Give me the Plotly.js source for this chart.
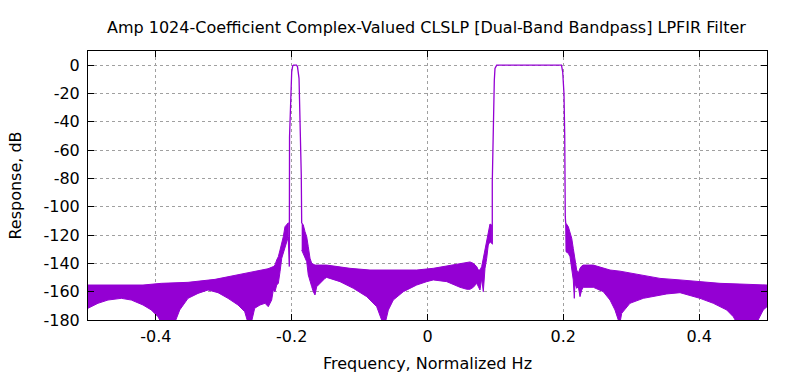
<!DOCTYPE html>
<html>
<head>
<meta charset="utf-8">
<script src="https://cdn.plot.ly/plotly-3.0.1.min.js"></script>
<style>html,body{margin:0;padding:0;background:#fff;}#chart{width:800px;height:375px;}</style>
</head>
<body>
<div id="chart"></div>
<script>
// Left stopband: upper and lower envelope of the dense ripple band
const leftUpperFreq = [-0.5, -0.419, -0.392, -0.3527, -0.313, -0.2938, -0.2644, -0.254, -0.2437, -0.2349, -0.2271, -0.2246, -0.2221, -0.2197, -0.2172, -0.2147, -0.2124, -0.2099, -0.2074, -0.205];
const leftUpperDb   = [-155.3, -155.3, -154.1, -153.4, -151.3, -149.4, -146.6, -145.6, -144.5, -143.8, -142.3, -141.1, -137.6, -135.3, -130.6, -125.9, -121.2, -114.1, -112.2, -111.3];
const leftLowerFreq = [-0.5, -0.4853, -0.4706, -0.451, -0.4362, -0.419, -0.4068, -0.3969, -0.392, -0.3723, -0.3649, -0.3527, -0.338, -0.3232, -0.3085, -0.2938, -0.2791, -0.2692, -0.2644, -0.2595, -0.2545, -0.2467, -0.2393, -0.2345, -0.2295, -0.2271, -0.2246, -0.2221, -0.2197, -0.2172, -0.2147, -0.2124, -0.2099, -0.2074, -0.205];
const leftLowerDb   = [-171.7, -168.2, -165.9, -164.7, -165.9, -169.4, -172.9, -177.7, -182, -182, -172.9, -164.7, -161.2, -158.8, -160.7, -164.7, -169.4, -174.1, -182, -182, -171.7, -169.4, -168.2, -170.6, -165.9, -158.8, -160, -155.3, -154.1, -145.9, -136.4, -132.9, -128.2, -124.7, -121.2];

// First passband (narrow, around -0.195)
const pass1Freq = [-0.205, -0.2035, -0.2032, -0.2015, -0.2, -0.1985, -0.1973, -0.1929, -0.1915, -0.1892, -0.1878, -0.1867, -0.1859, -0.1853];
const pass1Db   = [-121.2, -142.3, -50.5, -20, -4.7, -0.5, 0, 0, -1, -9.3, -31.7, -50.5, -77.6, -111.7];

// Middle stopband
const midUpperFreq = [-0.1853, -0.1829, -0.1804, -0.1779, -0.1756, -0.173, -0.1705, -0.1657, -0.1485, -0.1141, -0.0847, -0.0159, 0.0085, 0.0283, 0.0479, 0.0626, 0.0675, 0.0725, 0.0748, 0.0773, 0.0798, 0.0822, 0.0847, 0.0872, 0.0895, 0.092, 0.0946];
const midUpperDb   = [-111.3, -112.9, -117.6, -121.2, -128.2, -136.4, -140, -141.2, -141.2, -143.5, -144.7, -144.7, -143.5, -141.9, -140.4, -139, -140, -142.3, -144.7, -144.7, -142.3, -136.4, -130.6, -123.5, -117.6, -112.2, -112.9];
const midLowerFreq = [-0.1853, -0.1829, -0.1804, -0.1779, -0.1756, -0.173, -0.1705, -0.1682, -0.1657, -0.1632, -0.1608, -0.1558, -0.151, -0.1485, -0.1289, -0.1093, -0.0895, -0.0748, -0.0689, -0.066, -0.0622, -0.0577, -0.0504, -0.0356, -0.0159, -0.0012, 0.0085, 0.0283, 0.0479, 0.0577, 0.0626, 0.0675, 0.0725, 0.0748, 0.0773, 0.0798, 0.0822, 0.0847, 0.0872, 0.0895, 0.092, 0.0946];
const midLowerDb   = [-130.6, -132.9, -136.4, -138.8, -148.2, -152.9, -156.5, -160, -162.3, -156.5, -155.3, -152.9, -150.6, -149.9, -152.9, -157.6, -163.5, -170.6, -177.7, -182, -182, -173, -165.9, -160, -155.3, -152.9, -151.7, -152.9, -156.9, -158.3, -158.3, -156.9, -154.1, -156.5, -158.8, -150.6, -160, -143.5, -136.4, -127, -124.7, -125.8];

// Second passband (wide, 0.1 to 0.2)
const pass2Freq = [0.0946, 0.0954, 0.0954, 0.0969, 0.0984, 0.0994, 0.1019, 0.1973, 0.1991, 0.201, 0.2021, 0.2029, 0.2035];
const pass2Db   = [-125.8, -126, -82.3, -31.7, -10.6, -2.3, 0, 0, -4.7, -20, -50.5, -107, -111.7];

// Right stopband
const rightUpperFreq = [0.2035, 0.204, 0.2074, 0.2099, 0.2124, 0.2147, 0.2172, 0.2197, 0.2221, 0.2246, 0.2271, 0.2295, 0.2442, 0.2589, 0.2688, 0.2835, 0.313, 0.3424, 0.3719, 0.4013, 0.4308, 0.4602, 0.5];
const rightUpperDb   = [-111.7, -111.7, -114.1, -118.8, -122.3, -129.4, -136.4, -144.7, -147, -143.5, -141.9, -141.2, -141.2, -143.5, -144.7, -145.5, -148.2, -150.6, -151.7, -152.9, -154.1, -154.6, -155.3];
const rightLowerFreq = [0.2035, 0.204, 0.2074, 0.2099, 0.2124, 0.2147, 0.2162, 0.2172, 0.2197, 0.2221, 0.2246, 0.2271, 0.2295, 0.2442, 0.2589, 0.2688, 0.2761, 0.281, 0.2835, 0.286, 0.2982, 0.3178, 0.3523, 0.3719, 0.4013, 0.4209, 0.4406, 0.4504, 0.4554, 0.4848, 0.4945, 0.5];
const rightLowerDb   = [-111.7, -131.8, -132.9, -135.3, -142.3, -151.7, -164.7, -154.1, -157.6, -156.5, -163.5, -158.8, -156.9, -156.9, -160, -165.9, -172.9, -180, -182, -175.3, -168.2, -164.7, -161.6, -160.7, -164.7, -168.2, -172.9, -177.7, -182, -182, -172.9, -170.6];

const xTickVals = [-0.4, -0.2, 0, 0.2, 0.4];
const xTickText = ['-0.4', '-0.2', '0', '0.2', '0.4'];
const yTickVals = [0, -20, -40, -60, -80, -100, -120, -140, -160, -180];
const yTickText = ['0', '-20', '-40', '-60', '-80', '-100', '-120', '-140', '-160', '-180'];

const violet = '#9400d3';

function band(uf, ud, lf, ld) {
  return {
    x: uf.concat(lf.slice().reverse()),
    y: ud.concat(ld.slice().reverse()),
    type: 'scatter', mode: 'lines', fill: 'toself',
    fillcolor: violet, line: {color: violet, width: 1},
    hoverinfo: 'skip', showlegend: false
  };
}
function pass(f, d) {
  return {x: f, y: d, type: 'scatter', mode: 'lines',
    line: {color: violet, width: 1.3}, showlegend: false};
}

const data = [
  band(leftUpperFreq, leftUpperDb, leftLowerFreq, leftLowerDb),
  pass(pass1Freq, pass1Db),
  band(midUpperFreq, midUpperDb, midLowerFreq, midLowerDb),
  pass(pass2Freq, pass2Db),
  band(rightUpperFreq, rightUpperDb, rightLowerFreq, rightLowerDb)
];

const font = {family: 'DejaVu Sans, sans-serif', size: 16, color: '#000'};
const axisCommon = {
  showline: true, linecolor: '#000', linewidth: 1, mirror: 'ticks',
  ticks: 'inside', ticklen: 6, tickcolor: '#000', tickwidth: 1,
  showgrid: true, gridcolor: '#a0a0a0', griddash: 'dot', gridwidth: 1,
  zeroline: false, tickfont: font
};

const layout = {
  width: 800, height: 375,
  margin: {l: 88, r: 33, t: 51, b: 55},
  paper_bgcolor: '#fff', plot_bgcolor: '#fff',
  font: font,
  title: {text: 'Amp 1024-Coefficient Complex-Valued CLSLP [Dual-Band Bandpass] LPFIR Filter',
    font: {family: 'DejaVu Sans, sans-serif', size: 16, color: '#000'},
    x: 0.533, xanchor: 'center', y: 0.928, yanchor: 'middle'},
  xaxis: Object.assign({}, axisCommon, {
    range: [-0.5, 0.5], tickvals: xTickVals, ticktext: xTickText,
    ticklabelstandoff: 2,
    title: {text: 'Frequency, Normalized Hz', font: font, standoff: 12}
  }),
  yaxis: Object.assign({}, axisCommon, {
    range: [-180, 10], tickvals: yTickVals, ticktext: yTickText,
    ticklabelstandoff: 4,
    title: {text: 'Response, dB', font: font, standoff: 17}
  })
};

Plotly.newPlot('chart', data, layout, {displayModeBar: false, staticPlot: true});
</script>
</body>
</html>
